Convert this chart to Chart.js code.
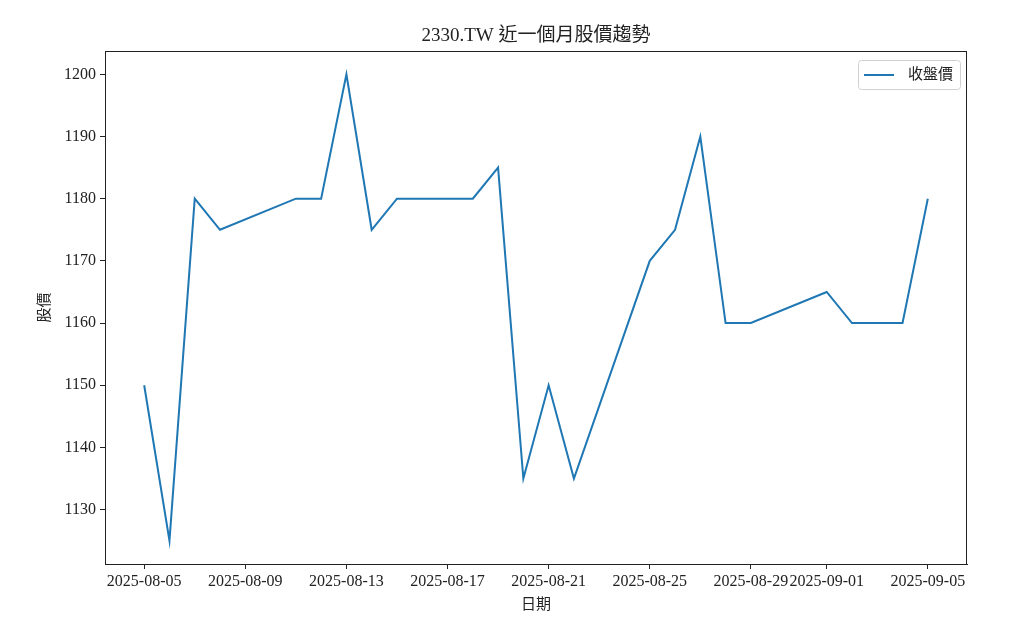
<!DOCTYPE html>
<html>
<head>
<meta charset="utf-8">
<script src="https://cdn.jsdelivr.net/npm/chart.js@4"></script>
<style>
  html, body { margin: 0; padding: 0; background: #fff; }
  #wrap { width: 1024px; height: 637px; }
</style>
</head>
<body>
<div id="wrap"><canvas id="priceChart" width="1024" height="637"></canvas></div>
<script>
const dates = ['2025-08-05', '2025-08-06', '2025-08-07', '2025-08-08', '2025-08-11', '2025-08-12',
               '2025-08-13', '2025-08-14', '2025-08-15', '2025-08-18', '2025-08-19', '2025-08-20',
               '2025-08-21', '2025-08-22', '2025-08-25', '2025-08-26', '2025-08-27', '2025-08-28',
               '2025-08-29', '2025-09-01', '2025-09-02', '2025-09-03', '2025-09-04', '2025-09-05'];
const closePrices = [1150, 1125, 1180, 1175, 1180, 1180,
                     1200, 1175, 1180, 1180, 1185, 1135,
                     1150, 1135, 1170, 1175, 1190, 1160,
                     1160, 1165, 1160, 1160, 1160, 1180];
const xTickDates = ['2025-08-05', '2025-08-09', '2025-08-13', '2025-08-17', '2025-08-21',
                    '2025-08-25', '2025-08-29', '2025-09-01', '2025-09-05'];
const yTicks = [1130, 1140, 1150, 1160, 1170, 1180, 1190, 1200];

const FONT = '"Liberation Serif", "Noto Sans CJK TC", serif';
const DAY = 86400000;
const t0 = Date.parse(dates[0]);
const toDay = d => (Date.parse(d) - t0) / DAY;
const dayToLabel = v => new Date(t0 + Math.round(v) * DAY).toISOString().slice(0, 10);

const xMin = 0, xMax = toDay(dates[dates.length - 1]);
const xPad = (xMax - xMin) * 0.05;
const yLo = Math.min(...closePrices), yHi = Math.max(...closePrices);
const yPad = (yHi - yLo) * 0.05;

// title + legend drawn inside the figure like matplotlib
const figureExtras = {
    id: 'figureExtras',
    afterDraw(chart) {
        const c = chart.ctx, a = chart.chartArea;
        c.save();
        c.fillStyle = '#222';
        c.font = '19px ' + FONT;
        c.textAlign = 'center';
        c.textBaseline = 'middle';
        c.fillText('2330.TW 近一個月股價趨勢', (a.left + a.right) / 2, 36);

        // legend box
        const ds = chart.data.datasets[0];
        const bx = 858, by = 60, bw = 102, bh = 29;
        c.fillStyle = 'rgba(255,255,255,0.8)';
        c.strokeStyle = '#d0d0d0';
        c.lineWidth = 1;
        c.beginPath();
        c.roundRect(bx + 0.5, by + 0.5, bw, bh, 3);
        c.fill();
        c.stroke();
        c.strokeStyle = ds.borderColor;
        c.lineWidth = 2;
        c.beginPath();
        c.moveTo(bx + 6, by + 15);
        c.lineTo(bx + 36, by + 15);
        c.stroke();
        c.fillStyle = '#222';
        c.font = '15px ' + FONT;
        c.textAlign = 'left';
        c.fillText(ds.label, bx + 50, by + 15);

        // frame
        c.strokeStyle = '#222';
        c.lineWidth = 1;
        c.strokeRect(a.left + 0.5, a.top + 0.5, a.right - a.left - 1, a.bottom - a.top);
        c.restore();
    }
};

new Chart(document.getElementById('priceChart').getContext('2d'), {
    type: 'line',
    data: {
        datasets: [{
            label: '收盤價',
            data: dates.map((d, i) => ({ x: toDay(d), y: closePrices[i] })),
            borderColor: '#1f77b4',
            borderWidth: 2,
            pointRadius: 0,
            fill: false,
            tension: 0
        }]
    },
    options: {
        responsive: false,
        animation: false,
        layout: { padding: { top: 51, right: 57, left: 0, bottom: 0 } },
        plugins: {
            legend: { display: false },
            title: { display: false },
            tooltip: { enabled: false }
        },
        scales: {
            x: {
                type: 'linear',
                min: xMin - xPad,
                max: xMax + xPad,
                afterBuildTicks: s => { s.ticks = xTickDates.map(d => ({ value: toDay(d) })); },
                afterFit: s => { s.height = 73; },
                grid: { drawOnChartArea: false, tickLength: 5, color: '#222', tickColor: '#222' },
                border: { color: '#222' },
                ticks: {
                    autoSkip: false,
                    maxRotation: 0,
                    padding: 3,
                    color: '#222',
                    font: { family: FONT, size: 16 },
                    callback: v => dayToLabel(v)
                },
                title: {
                    display: true,
                    text: '日期',
                    color: '#222',
                    font: { family: FONT, size: 15 },
                    padding: { top: 4, bottom: 23 }
                }
            },
            y: {
                min: yLo - yPad,
                max: yHi + yPad,
                afterBuildTicks: s => { s.ticks = yTicks.map(v => ({ value: v })); },
                afterFit: s => { s.width = 105; },
                grid: { drawOnChartArea: false, tickLength: 5, color: '#222', tickColor: '#222' },
                border: { color: '#222' },
                ticks: {
                    padding: 4,
                    color: '#222',
                    font: { family: FONT, size: 16 },
                    callback: v => String(v)
                },
                title: {
                    display: true,
                    text: '股價',
                    color: '#222',
                    font: { family: FONT, size: 15 },
                    padding: { top: 36, bottom: 0 }
                }
            }
        }
    },
    plugins: [figureExtras]
});
</script>
</body>
</html>
